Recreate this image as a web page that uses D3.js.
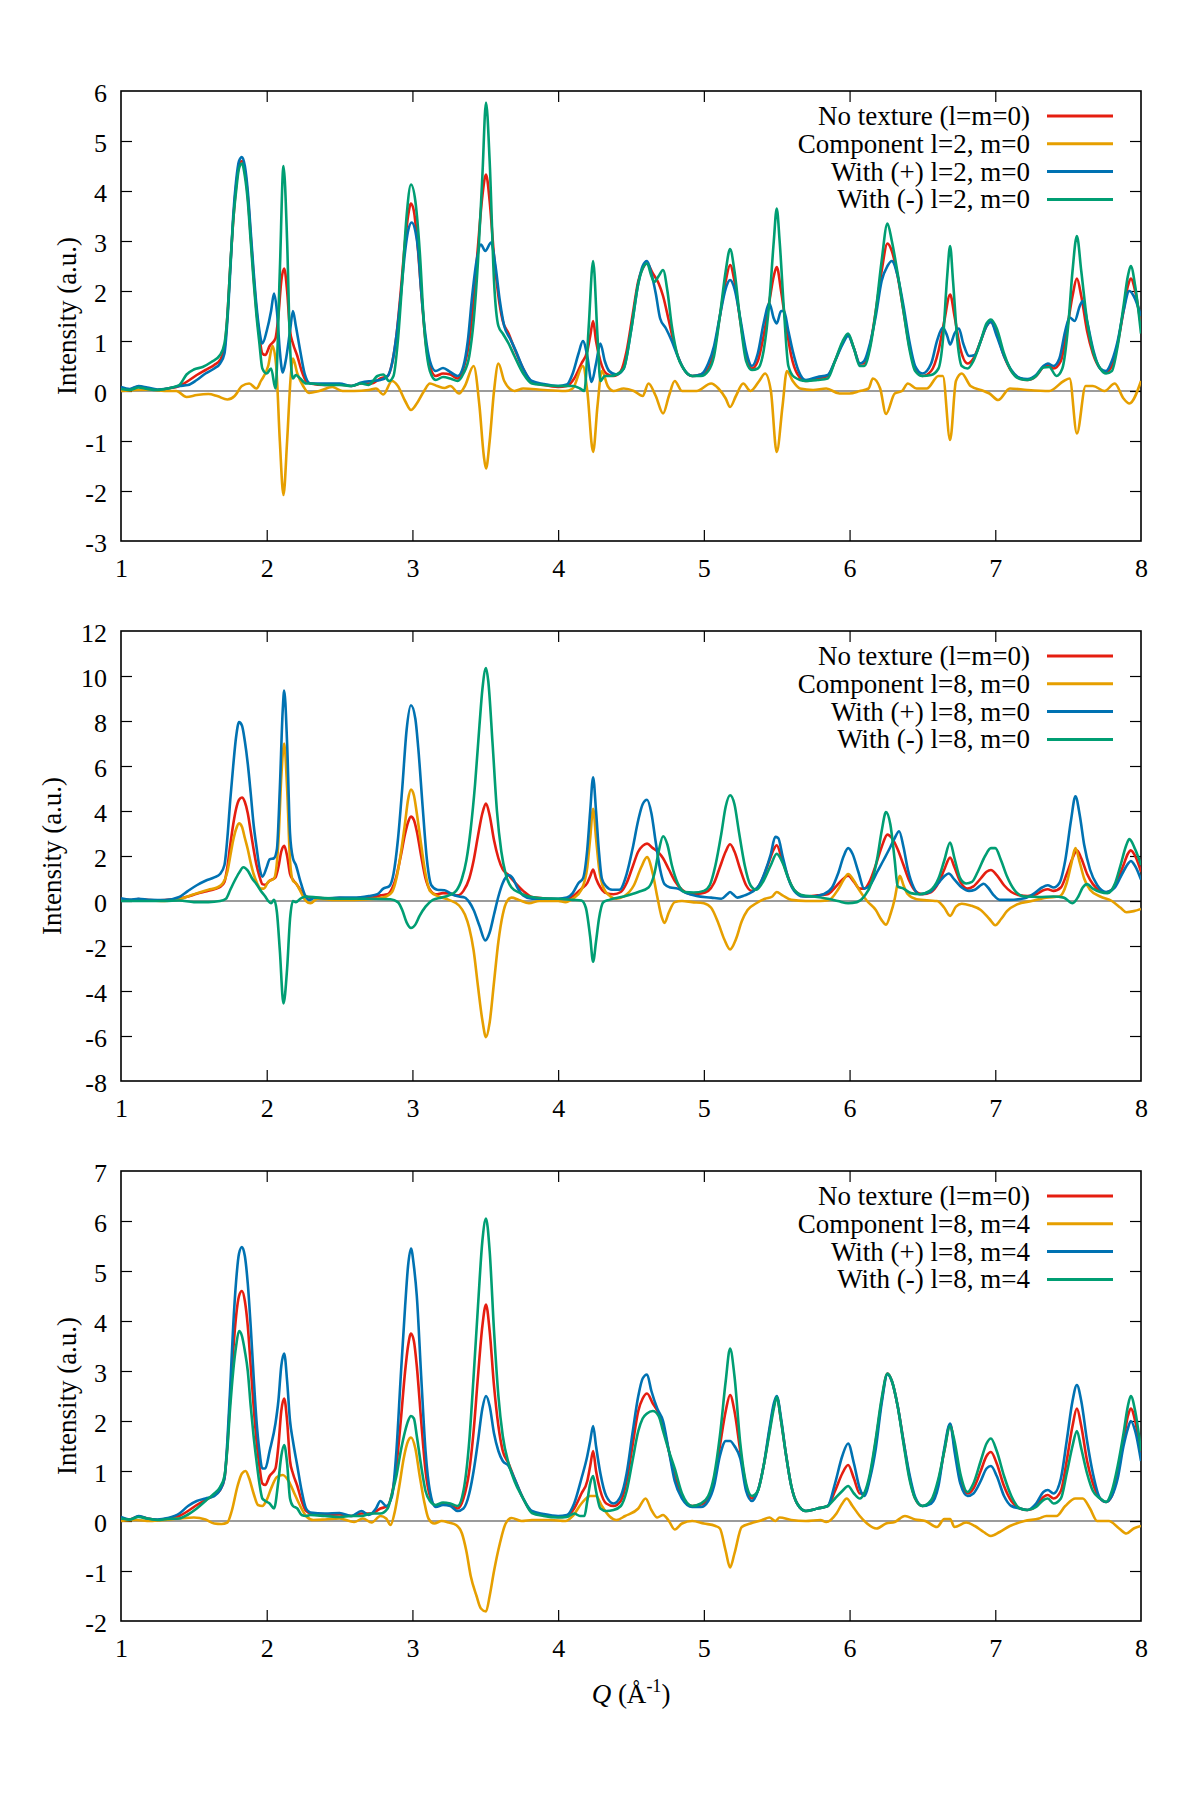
<!DOCTYPE html>
<html>
<head>
<meta charset="utf-8">
<script src="https://cdn.jsdelivr.net/npm/d3@7"></script>
<style>
  body { margin: 0; background: #fff; }
  text { font-family: "Liberation Serif", "Times New Roman", serif; fill: #000; }
</style>
</head>
<body>
<script>
// Q axis (1/Angstrom) and tick labels
const qDomain = [1, 8];
const qTicks = [1, 2, 3, 4, 5, 6, 7, 8];

// intensity ranges + ticks for the three panels
const yDomains = [[-3, 6], [-8, 12], [-2, 7]];
const yTickLists = [
  [-3, -2, -1, 0, 1, 2, 3, 4, 5, 6],
  [-8, -6, -4, -2, 0, 2, 4, 6, 8, 10, 12],
  [-2, -1, 0, 1, 2, 3, 4, 5, 6, 7]
];
const compTags = ["l=2, m=0", "l=8, m=0", "l=8, m=4"];

// no texture (l=m=0), same in every panel  [Q, intensity]
const noTexture = [[1.00,0.05],[1.06,0.03],[1.12,0.09],[1.18,0.05],[1.25,0.02],[1.32,0.05],[1.40,0.1],[1.46,0.2],[1.52,0.32],[1.58,0.42],[1.64,0.52],[1.68,0.62],[1.71,0.85],[1.73,1.5],[1.75,2.5],[1.77,3.4],[1.79,4.1],[1.81,4.5],[1.83,4.6],[1.85,4.4],[1.87,3.9],[1.89,3.1],[1.91,2.3],[1.93,1.6],[1.95,1.1],[1.97,0.75],[1.99,0.72],[2.02,0.9],[2.06,1.05],[2.08,1.5],[2.10,2.2],[2.12,2.45],[2.14,2.0],[2.16,1.2],[2.18,0.95],[2.21,0.7],[2.24,0.4],[2.27,0.2],[2.30,0.15],[2.4,0.12],[2.5,0.13],[2.58,0.1],[2.65,0.15],[2.72,0.15],[2.78,0.25],[2.83,0.3],[2.86,0.55],[2.89,1.1],[2.92,2.0],[2.95,3.0],[2.97,3.5],[2.99,3.75],[3.01,3.6],[3.03,3.1],[3.06,2.0],[3.09,1.0],[3.12,0.5],[3.16,0.3],[3.21,0.35],[3.26,0.33],[3.31,0.25],[3.35,0.45],[3.39,1.0],[3.42,1.8],[3.45,2.9],[3.48,3.9],[3.505,4.33],[3.53,3.8],[3.56,2.7],[3.59,1.9],[3.62,1.4],[3.66,1.15],[3.70,0.85],[3.76,0.45],[3.82,0.18],[3.9,0.12],[4.0,0.08],[4.06,0.1],[4.11,0.25],[4.16,0.55],[4.20,0.8],[4.22,1.1],[4.24,1.4],[4.26,1.0],[4.29,0.6],[4.33,0.35],[4.38,0.3],[4.43,0.4],[4.47,0.8],[4.51,1.5],[4.55,2.2],[4.58,2.45],[4.61,2.55],[4.65,2.35],[4.69,2.15],[4.72,1.9],[4.76,1.4],[4.8,0.9],[4.85,0.5],[4.92,0.3],[4.98,0.33],[5.03,0.45],[5.07,0.8],[5.11,1.5],[5.15,2.2],[5.18,2.52],[5.21,2.2],[5.25,1.4],[5.29,0.7],[5.33,0.45],[5.37,0.6],[5.41,1.1],[5.45,1.8],[5.48,2.3],[5.50,2.48],[5.53,2.0],[5.56,1.4],[5.6,0.7],[5.64,0.35],[5.7,0.2],[5.78,0.25],[5.85,0.3],[5.9,0.6],[5.95,0.95],[5.99,1.12],[6.03,0.85],[6.07,0.55],[6.1,0.55],[6.14,0.9],[6.18,1.6],[6.22,2.4],[6.26,2.95],[6.29,2.8],[6.33,2.3],[6.37,1.6],[6.41,0.9],[6.45,0.45],[6.5,0.3],[6.56,0.4],[6.61,0.8],[6.65,1.4],[6.69,1.93],[6.72,1.5],[6.76,0.85],[6.81,0.55],[6.85,0.65],[6.9,1.0],[6.94,1.3],[6.97,1.38],[7.01,1.15],[7.06,0.7],[7.11,0.4],[7.17,0.25],[7.22,0.22],[7.28,0.3],[7.33,0.48],[7.36,0.52],[7.40,0.45],[7.45,0.6],[7.49,1.2],[7.53,1.9],[7.56,2.25],[7.59,1.9],[7.63,1.2],[7.67,0.75],[7.72,0.45],[7.76,0.38],[7.8,0.5],[7.84,0.95],[7.88,1.6],[7.91,2.1],[7.93,2.25],[7.96,2.0],[8.0,1.3]];

// panel 1: l=2, m=0
const comp20 = [[1.0,0.0],[1.1,0.02],[1.2,0.03],[1.3,0.0],[1.38,0.0],[1.45,-0.12],[1.52,-0.08],[1.6,-0.06],[1.66,-0.1],[1.73,-0.17],[1.78,-0.1],[1.83,0.1],[1.88,0.15],[1.93,0.05],[1.96,0.2],[2.01,0.5],[2.04,0.9],[2.065,0.5],[2.09,-1.0],[2.115,-2.08],[2.14,-1.0],[2.165,0.3],[2.18,0.65],[2.21,0.35],[2.25,0.1],[2.29,-0.04],[2.36,0.0],[2.45,0.08],[2.52,0.0],[2.6,0.0],[2.7,0.02],[2.75,0.05],[2.8,-0.07],[2.86,0.2],[2.9,0.1],[2.95,-0.2],[2.99,-0.38],[3.03,-0.25],[3.08,0.0],[3.12,0.15],[3.17,0.1],[3.22,0.06],[3.26,0.1],[3.32,-0.05],[3.36,0.1],[3.42,0.5],[3.46,-0.3],[3.49,-1.3],[3.505,-1.55],[3.53,-1.0],[3.56,0.0],[3.59,0.55],[3.63,0.2],[3.7,0.0],[3.76,0.05],[3.9,0.02],[4.05,0.0],[4.1,0.05],[4.17,0.5],[4.2,0.0],[4.24,-1.22],[4.27,-0.3],[4.3,0.4],[4.34,0.1],[4.38,0.0],[4.45,0.05],[4.52,0.0],[4.58,-0.1],[4.62,0.15],[4.67,-0.1],[4.72,-0.45],[4.76,-0.1],[4.8,0.2],[4.85,0.0],[4.95,0.0],[5.05,0.15],[5.1,0.05],[5.15,-0.15],[5.18,-0.32],[5.22,-0.1],[5.27,0.15],[5.32,0.0],[5.38,0.2],[5.42,0.35],[5.46,0.0],[5.5,-1.22],[5.54,-0.3],[5.57,0.4],[5.61,0.2],[5.66,0.05],[5.75,0.02],[5.84,0.05],[5.93,-0.05],[6.0,-0.05],[6.07,0.0],[6.13,0.05],[6.16,0.25],[6.21,0.05],[6.25,-0.46],[6.31,-0.05],[6.36,0.0],[6.4,0.15],[6.46,0.05],[6.53,0.05],[6.61,0.3],[6.64,0.3],[6.69,-0.98],[6.73,0.2],[6.77,0.35],[6.83,0.1],[6.92,0.0],[6.96,-0.05],[7.02,-0.18],[7.1,0.05],[7.22,0.02],[7.37,0.0],[7.47,0.2],[7.51,0.25],[7.56,-0.85],[7.62,0.1],[7.67,0.1],[7.75,0.0],[7.82,0.15],[7.88,-0.15],[7.92,-0.25],[8.0,0.2]];
const plus20 = [[1.0,0.08],[1.06,0.04],[1.12,0.1],[1.18,0.07],[1.25,0.03],[1.32,0.05],[1.4,0.1],[1.46,0.12],[1.52,0.22],[1.58,0.35],[1.64,0.45],[1.68,0.55],[1.71,0.75],[1.73,1.4],[1.75,2.4],[1.77,3.5],[1.79,4.2],[1.81,4.6],[1.83,4.68],[1.85,4.5],[1.87,4.0],[1.89,3.2],[1.91,2.4],[1.93,1.7],[1.95,1.2],[1.97,0.95],[2.0,1.2],[2.03,1.6],[2.05,1.95],[2.07,1.6],[2.09,0.8],[2.11,0.37],[2.13,0.6],[2.16,1.2],[2.18,1.6],[2.2,1.3],[2.23,0.8],[2.26,0.35],[2.3,0.15],[2.4,0.15],[2.5,0.15],[2.58,0.1],[2.65,0.17],[2.72,0.2],[2.78,0.22],[2.83,0.3],[2.86,0.55],[2.89,1.1],[2.92,1.9],[2.95,2.8],[2.97,3.2],[2.995,3.37],[3.02,3.2],[3.04,2.8],[3.06,2.0],[3.09,1.1],[3.12,0.6],[3.16,0.4],[3.21,0.46],[3.26,0.38],[3.31,0.3],[3.35,0.5],[3.38,1.0],[3.41,1.9],[3.44,2.6],[3.47,2.93],[3.5,2.8],[3.54,2.97],[3.57,2.5],[3.6,1.8],[3.63,1.3],[3.67,1.05],[3.71,0.8],[3.76,0.45],[3.82,0.2],[3.9,0.14],[4.0,0.1],[4.06,0.13],[4.1,0.35],[4.14,0.75],[4.17,1.0],[4.2,0.7],[4.23,0.18],[4.26,0.55],[4.29,0.95],[4.32,0.6],[4.35,0.4],[4.4,0.33],[4.45,0.45],[4.5,1.2],[4.55,2.15],[4.58,2.5],[4.61,2.6],[4.64,2.35],[4.67,1.95],[4.7,1.45],[4.74,1.25],[4.78,1.0],[4.82,0.7],[4.86,0.45],[4.92,0.3],[4.98,0.33],[5.03,0.55],[5.07,0.9],[5.11,1.5],[5.15,2.05],[5.18,2.22],[5.21,2.05],[5.25,1.45],[5.29,0.8],[5.33,0.5],[5.37,0.75],[5.41,1.35],[5.45,1.75],[5.48,1.45],[5.5,1.35],[5.53,1.6],[5.55,1.6],[5.58,1.2],[5.61,0.8],[5.65,0.4],[5.7,0.22],[5.78,0.28],[5.85,0.32],[5.9,0.6],[5.95,0.92],[5.99,1.1],[6.03,0.85],[6.07,0.55],[6.1,0.6],[6.14,0.95],[6.18,1.5],[6.22,2.2],[6.26,2.5],[6.29,2.6],[6.33,2.3],[6.37,1.7],[6.41,1.0],[6.45,0.5],[6.5,0.35],[6.56,0.55],[6.6,1.0],[6.64,1.27],[6.67,1.1],[6.69,0.93],[6.72,1.15],[6.75,1.25],[6.78,0.95],[6.82,0.7],[6.86,0.72],[6.9,1.0],[6.94,1.3],[6.97,1.38],[7.01,1.1],[7.06,0.7],[7.11,0.42],[7.17,0.26],[7.22,0.24],[7.28,0.32],[7.33,0.5],[7.36,0.55],[7.40,0.5],[7.44,0.65],[7.48,1.2],[7.51,1.47],[7.545,1.4],[7.58,1.7],[7.6,1.8],[7.63,1.4],[7.67,0.85],[7.72,0.45],[7.76,0.4],[7.8,0.6],[7.84,1.0],[7.88,1.6],[7.92,2.0],[7.95,1.9],[8.0,1.5]];
const minus20 = [[1.0,0.04],[1.06,0.02],[1.12,0.07],[1.18,0.04],[1.25,0.02],[1.32,0.05],[1.4,0.12],[1.45,0.33],[1.5,0.43],[1.56,0.48],[1.62,0.58],[1.68,0.72],[1.71,0.95],[1.73,1.5],[1.75,2.5],[1.77,3.4],[1.79,4.0],[1.81,4.45],[1.83,4.55],[1.85,4.3],[1.87,3.8],[1.89,3.0],[1.91,2.2],[1.93,1.5],[1.95,0.95],[1.97,0.45],[2.0,0.35],[2.03,0.45],[2.06,0.05],[2.09,2.4],[2.115,4.5],[2.14,3.0],[2.16,0.9],[2.18,0.25],[2.2,0.32],[2.23,0.25],[2.27,0.15],[2.3,0.15],[2.4,0.12],[2.5,0.12],[2.58,0.1],[2.65,0.15],[2.7,0.12],[2.76,0.3],[2.8,0.33],[2.84,0.2],[2.87,0.3],[2.9,1.0],[2.93,2.2],[2.96,3.5],[2.99,4.13],[3.02,3.8],[3.05,2.8],[3.08,1.3],[3.12,0.4],[3.16,0.22],[3.21,0.28],[3.26,0.25],[3.31,0.2],[3.35,0.35],[3.39,0.7],[3.42,1.4],[3.45,2.6],[3.48,4.3],[3.505,5.77],[3.53,4.6],[3.56,2.2],[3.59,1.3],[3.62,1.15],[3.66,0.95],[3.7,0.7],[3.76,0.35],[3.82,0.15],[3.9,0.12],[4.0,0.1],[4.1,0.1],[4.15,0.05],[4.18,0.0],[4.21,1.3],[4.24,2.6],[4.27,1.1],[4.29,0.2],[4.32,0.3],[4.36,0.3],[4.4,0.33],[4.45,0.45],[4.5,1.2],[4.55,2.15],[4.58,2.45],[4.61,2.55],[4.64,2.3],[4.66,2.18],[4.69,2.3],[4.72,2.42],[4.75,2.0],[4.78,1.3],[4.82,0.7],[4.86,0.45],[4.92,0.3],[4.98,0.3],[5.03,0.4],[5.07,0.7],[5.11,1.5],[5.15,2.4],[5.18,2.84],[5.21,2.4],[5.25,1.4],[5.29,0.6],[5.33,0.42],[5.37,0.45],[5.41,0.8],[5.45,1.8],[5.48,3.0],[5.5,3.65],[5.52,3.0],[5.55,1.6],[5.58,0.5],[5.62,0.28],[5.7,0.2],[5.78,0.22],[5.85,0.25],[5.9,0.6],[5.95,0.98],[5.99,1.15],[6.03,0.85],[6.07,0.5],[6.1,0.5],[6.14,0.85],[6.18,1.6],[6.22,2.6],[6.26,3.35],[6.29,3.0],[6.33,2.35],[6.37,1.6],[6.41,0.85],[6.45,0.4],[6.5,0.3],[6.56,0.32],[6.61,0.45],[6.64,1.0],[6.67,2.3],[6.69,2.9],[6.71,2.2],[6.74,1.0],[6.77,0.5],[6.81,0.45],[6.85,0.6],[6.9,1.0],[6.94,1.35],[6.97,1.43],[7.01,1.25],[7.06,0.75],[7.11,0.4],[7.17,0.24],[7.22,0.22],[7.28,0.3],[7.33,0.47],[7.37,0.48],[7.42,0.3],[7.46,0.45],[7.5,1.3],[7.53,2.4],[7.56,3.1],[7.59,2.4],[7.63,1.4],[7.67,0.8],[7.72,0.45],[7.76,0.35],[7.8,0.4],[7.84,0.9],[7.88,1.7],[7.91,2.3],[7.93,2.5],[7.96,2.1],[8.0,1.15]];

// panel 2: l=8, m=0
const comp80 = [[1.0,0.05],[1.1,0.03],[1.2,0.02],[1.3,0.0],[1.4,0.08],[1.5,0.3],[1.6,0.5],[1.66,0.6],[1.7,0.8],[1.73,1.3],[1.75,2.0],[1.77,2.7],[1.79,3.2],[1.81,3.45],[1.83,3.3],[1.85,2.8],[1.87,2.3],[1.89,1.7],[1.91,1.2],[1.93,0.85],[1.96,0.55],[1.98,0.55],[2.01,0.85],[2.05,1.0],[2.08,2.6],[2.1,5.5],[2.12,7.0],[2.14,5.0],[2.16,1.8],[2.18,0.9],[2.2,0.8],[2.23,0.45],[2.27,0.0],[2.3,-0.1],[2.35,0.1],[2.45,0.05],[2.6,0.05],[2.75,0.1],[2.82,0.2],[2.86,0.4],[2.89,1.0],[2.92,2.1],[2.95,3.5],[2.97,4.5],[2.99,4.95],[3.01,4.7],[3.03,3.9],[3.06,2.5],[3.09,1.2],[3.12,0.45],[3.18,0.2],[3.25,0.05],[3.32,-0.2],[3.36,-0.6],[3.39,-1.2],[3.42,-2.2],[3.45,-3.8],[3.48,-5.3],[3.505,-6.05],[3.53,-5.4],[3.56,-3.6],[3.59,-1.8],[3.62,-0.6],[3.65,0.0],[3.68,0.15],[3.73,0.05],[3.8,-0.1],[3.87,0.0],[4.0,0.0],[4.05,-0.05],[4.1,0.1],[4.16,0.5],[4.2,1.5],[4.22,2.8],[4.24,4.1],[4.26,2.8],[4.28,1.5],[4.31,0.6],[4.35,0.25],[4.4,0.1],[4.45,0.2],[4.52,0.7],[4.57,1.5],[4.61,1.95],[4.65,1.2],[4.68,0.2],[4.71,-0.7],[4.73,-0.98],[4.76,-0.5],[4.8,-0.05],[4.85,0.0],[4.92,-0.05],[5.0,-0.1],[5.05,-0.3],[5.1,-1.0],[5.14,-1.7],[5.18,-2.15],[5.22,-1.7],[5.26,-0.9],[5.3,-0.4],[5.36,-0.1],[5.42,0.1],[5.47,0.2],[5.5,0.4],[5.54,0.25],[5.6,0.05],[5.7,0.0],[5.8,0.0],[5.86,0.05],[5.92,0.5],[5.96,0.95],[5.99,1.2],[6.03,0.9],[6.07,0.45],[6.12,0.0],[6.18,-0.4],[6.22,-0.85],[6.25,-1.05],[6.28,-0.6],[6.31,0.1],[6.33,0.8],[6.345,1.12],[6.37,0.7],[6.4,0.3],[6.46,0.08],[6.55,0.02],[6.6,0.0],[6.65,-0.3],[6.69,-0.66],[6.73,-0.25],[6.77,-0.12],[6.83,-0.2],[6.9,-0.4],[6.96,-0.8],[7.0,-1.08],[7.04,-0.8],[7.08,-0.45],[7.15,-0.15],[7.25,0.0],[7.35,0.15],[7.44,0.2],[7.49,0.8],[7.52,1.6],[7.55,2.35],[7.58,1.7],[7.61,1.0],[7.65,0.5],[7.72,0.2],[7.8,0.0],[7.86,-0.3],[7.9,-0.5],[7.95,-0.45],[8.0,-0.35]];
const plus80 = [[1.0,0.12],[1.06,0.06],[1.12,0.1],[1.2,0.05],[1.3,0.04],[1.4,0.18],[1.46,0.45],[1.52,0.7],[1.58,0.9],[1.64,1.05],[1.68,1.2],[1.71,1.6],[1.73,2.8],[1.75,4.5],[1.77,6.0],[1.79,7.3],[1.81,7.95],[1.83,7.8],[1.85,7.1],[1.87,6.1],[1.89,4.8],[1.91,3.4],[1.93,2.4],[1.95,1.5],[1.97,1.08],[2.0,1.5],[2.02,1.85],[2.05,1.9],[2.07,2.3],[2.09,5.0],[2.11,8.5],[2.12,9.35],[2.14,7.0],[2.16,3.0],[2.18,1.9],[2.2,1.6],[2.23,0.9],[2.26,0.3],[2.29,0.05],[2.33,0.15],[2.4,0.12],[2.5,0.15],[2.6,0.15],[2.7,0.22],[2.76,0.3],[2.8,0.55],[2.84,0.65],[2.87,1.2],[2.9,2.7],[2.93,5.0],[2.96,7.6],[2.99,8.7],[3.02,8.1],[3.04,6.8],[3.07,4.2],[3.1,1.8],[3.13,0.7],[3.17,0.5],[3.22,0.48],[3.27,0.3],[3.32,0.2],[3.36,0.15],[3.39,-0.05],[3.42,-0.4],[3.46,-1.1],[3.5,-1.75],[3.53,-1.4],[3.56,-0.6],[3.59,0.2],[3.62,0.8],[3.66,1.15],[3.69,1.0],[3.72,0.6],[3.76,0.25],[3.82,0.1],[3.9,0.1],[4.0,0.1],[4.06,0.15],[4.1,0.35],[4.14,0.8],[4.17,1.0],[4.2,2.3],[4.22,4.0],[4.24,5.5],[4.26,4.0],[4.28,2.2],[4.3,1.0],[4.33,0.65],[4.37,0.5],[4.42,0.5],[4.47,1.2],[4.51,2.3],[4.55,3.6],[4.58,4.3],[4.61,4.5],[4.64,3.9],[4.67,2.6],[4.7,1.4],[4.73,0.75],[4.77,0.6],[4.82,0.55],[4.88,0.35],[4.95,0.22],[5.05,0.15],[5.12,0.1],[5.16,0.3],[5.18,0.4],[5.2,0.3],[5.23,0.15],[5.28,0.25],[5.33,0.4],[5.38,0.7],[5.42,1.3],[5.46,2.1],[5.49,2.85],[5.51,2.8],[5.54,2.0],[5.58,1.0],[5.62,0.45],[5.68,0.2],[5.75,0.2],[5.82,0.3],[5.88,0.6],[5.92,1.2],[5.96,2.0],[5.99,2.35],[6.02,2.1],[6.06,1.3],[6.1,0.55],[6.14,0.7],[6.19,1.3],[6.24,1.9],[6.28,2.4],[6.31,2.8],[6.34,3.1],[6.37,2.4],[6.4,1.4],[6.44,0.6],[6.48,0.3],[6.55,0.4],[6.61,0.8],[6.65,1.1],[6.68,1.22],[6.72,0.95],[6.77,0.6],[6.82,0.45],[6.86,0.5],[6.9,0.7],[6.92,0.77],[6.95,0.6],[6.99,0.25],[7.03,0.05],[7.1,0.05],[7.2,0.12],[7.27,0.35],[7.32,0.6],[7.36,0.7],[7.4,0.6],[7.44,0.8],[7.48,1.8],[7.52,3.6],[7.55,4.65],[7.58,3.8],[7.61,2.5],[7.65,1.4],[7.7,0.7],[7.76,0.4],[7.82,0.6],[7.87,1.2],[7.91,1.65],[7.93,1.78],[7.96,1.55],[8.0,0.95]];
const minus80 = [[1.0,0.0],[1.2,0.0],[1.3,0.0],[1.4,0.02],[1.5,-0.05],[1.6,-0.05],[1.68,0.0],[1.72,0.1],[1.75,0.5],[1.78,0.9],[1.81,1.25],[1.84,1.5],[1.87,1.35],[1.9,1.0],[1.93,0.75],[1.96,0.45],[1.99,0.2],[2.01,0.0],[2.03,-0.1],[2.05,0.05],[2.07,-0.5],[2.09,-2.2],[2.115,-4.55],[2.14,-3.0],[2.16,-0.8],[2.18,0.0],[2.2,-0.05],[2.23,0.1],[2.27,0.2],[2.35,0.15],[2.5,0.1],[2.7,0.1],[2.85,0.08],[2.9,-0.05],[2.93,-0.4],[2.96,-0.95],[2.99,-1.2],[3.02,-1.05],[3.05,-0.65],[3.09,-0.25],[3.14,0.05],[3.2,0.15],[3.25,0.25],[3.3,0.45],[3.34,1.0],[3.37,1.8],[3.4,3.2],[3.43,5.2],[3.46,7.8],[3.48,9.4],[3.505,10.35],[3.52,9.8],[3.55,7.0],[3.58,4.0],[3.61,2.2],[3.64,1.2],[3.68,0.6],[3.74,0.35],[3.8,0.2],[3.9,0.12],[4.0,0.1],[4.1,0.05],[4.16,0.02],[4.19,-0.3],[4.22,-1.6],[4.24,-2.7],[4.26,-1.8],[4.28,-0.8],[4.31,-0.05],[4.35,0.05],[4.45,0.2],[4.55,0.4],[4.62,0.6],[4.66,1.2],[4.69,2.2],[4.72,2.88],[4.75,2.5],[4.78,1.6],[4.82,0.8],[4.87,0.4],[4.93,0.38],[5.0,0.45],[5.04,0.7],[5.08,1.6],[5.12,3.0],[5.15,4.2],[5.18,4.7],[5.21,4.3],[5.24,3.1],[5.28,1.6],[5.32,0.7],[5.36,0.5],[5.41,0.9],[5.46,1.6],[5.5,2.1],[5.54,1.7],[5.58,1.0],[5.62,0.5],[5.68,0.25],[5.75,0.2],[5.85,0.1],[5.92,0.0],[5.99,-0.1],[6.05,-0.05],[6.1,0.2],[6.15,0.8],[6.19,1.9],[6.22,3.1],[6.25,3.95],[6.28,3.4],[6.31,1.8],[6.33,0.65],[6.37,0.55],[6.42,0.35],[6.48,0.3],[6.55,0.45],[6.61,1.0],[6.65,1.8],[6.69,2.6],[6.72,1.9],[6.76,1.0],[6.8,0.78],[6.84,0.85],[6.88,1.3],[6.93,2.0],[6.97,2.35],[7.0,2.35],[7.04,1.8],[7.08,1.1],[7.13,0.5],[7.2,0.2],[7.3,0.18],[7.4,0.2],[7.47,0.15],[7.53,-0.1],[7.57,0.2],[7.6,0.6],[7.63,0.75],[7.67,0.55],[7.72,0.4],[7.77,0.35],[7.82,0.75],[7.86,1.6],[7.9,2.5],[7.92,2.75],[7.96,2.3],[8.0,1.6]];

// panel 3: l=8, m=4
const comp84 = [[1.0,0.0],[1.1,0.02],[1.2,0.0],[1.3,0.02],[1.4,0.05],[1.5,0.07],[1.58,0.03],[1.64,-0.05],[1.69,-0.06],[1.73,-0.03],[1.76,0.2],[1.8,0.7],[1.83,0.95],[1.855,1.0],[1.88,0.85],[1.91,0.55],[1.94,0.32],[1.97,0.3],[2.0,0.42],[2.03,0.65],[2.07,0.88],[2.11,0.92],[2.15,0.8],[2.19,0.55],[2.23,0.3],[2.27,0.1],[2.32,0.02],[2.4,0.03],[2.5,0.05],[2.6,-0.02],[2.66,0.05],[2.72,-0.03],[2.78,0.1],[2.82,0.05],[2.85,-0.08],[2.88,0.2],[2.91,0.7],[2.94,1.25],[2.97,1.6],[2.99,1.67],[3.02,1.45],[3.05,0.9],[3.08,0.4],[3.11,0.05],[3.15,-0.05],[3.2,0.0],[3.25,-0.03],[3.3,-0.08],[3.34,-0.25],[3.37,-0.6],[3.4,-1.1],[3.44,-1.5],[3.47,-1.75],[3.505,-1.81],[3.53,-1.5],[3.56,-1.0],[3.6,-0.45],[3.64,-0.05],[3.68,0.06],[3.75,0.0],[3.82,0.02],[3.95,0.02],[4.05,0.0],[4.1,0.1],[4.16,0.35],[4.22,0.5],[4.26,0.5],[4.3,0.3],[4.35,0.1],[4.4,0.02],[4.46,0.1],[4.55,0.25],[4.6,0.45],[4.64,0.22],[4.68,0.07],[4.72,0.12],[4.76,0.0],[4.8,-0.17],[4.85,-0.05],[4.92,0.0],[5.0,-0.05],[5.08,-0.1],[5.11,-0.15],[5.15,-0.6],[5.18,-0.93],[5.21,-0.65],[5.26,-0.12],[5.32,-0.05],[5.4,0.02],[5.45,0.07],[5.49,0.0],[5.52,0.07],[5.6,0.02],[5.7,0.0],[5.8,0.02],[5.84,-0.02],[5.91,0.15],[5.95,0.35],[5.98,0.45],[6.02,0.3],[6.07,0.1],[6.12,-0.05],[6.185,-0.15],[6.25,-0.05],[6.31,-0.02],[6.38,0.1],[6.45,0.03],[6.52,0.0],[6.6,-0.12],[6.65,0.04],[6.69,0.04],[6.72,-0.12],[6.8,-0.03],[6.86,-0.1],[6.92,-0.22],[6.97,-0.3],[7.03,-0.22],[7.1,-0.1],[7.2,0.0],[7.3,0.05],[7.35,0.1],[7.42,0.1],[7.48,0.3],[7.55,0.45],[7.6,0.45],[7.65,0.25],[7.7,0.0],[7.78,0.0],[7.85,-0.15],[7.9,-0.25],[7.95,-0.15],[8.0,-0.1]];
const plus84 = [[1.0,0.08],[1.06,0.03],[1.12,0.1],[1.18,0.05],[1.25,0.03],[1.32,0.06],[1.4,0.15],[1.46,0.3],[1.52,0.4],[1.58,0.45],[1.64,0.5],[1.68,0.62],[1.71,0.85],[1.73,1.6],[1.75,2.7],[1.77,3.9],[1.79,4.8],[1.81,5.35],[1.83,5.48],[1.85,5.3],[1.87,4.75],[1.89,3.9],[1.91,2.9],[1.93,2.0],[1.95,1.4],[1.97,1.05],[1.99,1.05],[2.02,1.4],[2.06,1.95],[2.08,2.4],[2.1,3.1],[2.12,3.35],[2.14,2.8],[2.16,2.0],[2.18,1.6],[2.21,1.1],[2.24,0.6],[2.27,0.25],[2.3,0.17],[2.4,0.15],[2.5,0.16],[2.58,0.1],[2.65,0.2],[2.7,0.12],[2.75,0.25],[2.78,0.4],[2.82,0.3],[2.86,0.5],[2.89,1.4],[2.92,2.9],[2.95,4.3],[2.97,5.1],[2.99,5.45],[3.01,5.1],[3.03,4.5],[3.06,2.9],[3.09,1.4],[3.12,0.6],[3.16,0.28],[3.21,0.32],[3.26,0.3],[3.31,0.2],[3.35,0.25],[3.39,0.55],[3.42,1.0],[3.45,1.6],[3.48,2.25],[3.505,2.5],[3.53,2.3],[3.56,1.75],[3.59,1.4],[3.62,1.2],[3.66,1.1],[3.7,0.85],[3.76,0.45],[3.82,0.2],[3.9,0.14],[4.0,0.1],[4.06,0.12],[4.11,0.35],[4.16,0.85],[4.2,1.3],[4.22,1.6],[4.24,1.9],[4.26,1.5],[4.29,0.95],[4.33,0.5],[4.38,0.35],[4.43,0.5],[4.47,0.95],[4.51,1.75],[4.55,2.5],[4.58,2.85],[4.61,2.93],[4.64,2.6],[4.68,2.25],[4.72,2.0],[4.76,1.4],[4.8,0.8],[4.85,0.45],[4.92,0.28],[4.98,0.28],[5.03,0.4],[5.07,0.7],[5.11,1.3],[5.15,1.6],[5.18,1.6],[5.21,1.5],[5.25,1.25],[5.29,0.6],[5.33,0.4],[5.37,0.6],[5.41,1.1],[5.45,1.85],[5.48,2.35],[5.5,2.5],[5.53,2.05],[5.56,1.4],[5.6,0.7],[5.64,0.35],[5.7,0.2],[5.78,0.25],[5.85,0.3],[5.9,0.75],[5.95,1.3],[5.99,1.55],[6.03,1.15],[6.07,0.65],[6.1,0.5],[6.14,0.85],[6.18,1.45],[6.22,2.35],[6.26,2.93],[6.29,2.8],[6.33,2.3],[6.37,1.6],[6.41,0.95],[6.45,0.48],[6.5,0.3],[6.56,0.35],[6.61,0.7],[6.65,1.45],[6.69,1.95],[6.72,1.4],[6.76,0.75],[6.81,0.5],[6.85,0.55],[6.9,0.8],[6.94,1.05],[6.97,1.1],[7.01,0.9],[7.06,0.5],[7.11,0.3],[7.17,0.25],[7.22,0.22],[7.28,0.35],[7.33,0.58],[7.36,0.62],[7.40,0.55],[7.45,0.85],[7.49,1.6],[7.53,2.4],[7.56,2.72],[7.59,2.4],[7.63,1.6],[7.67,0.95],[7.72,0.45],[7.76,0.38],[7.8,0.5],[7.84,0.85],[7.88,1.5],[7.91,1.85],[7.93,2.0],[7.96,1.8],[8.0,1.2]];
const minus84 = [[1.0,0.05],[1.06,0.03],[1.12,0.08],[1.18,0.05],[1.25,0.02],[1.32,0.04],[1.4,0.05],[1.46,0.13],[1.52,0.25],[1.58,0.4],[1.64,0.55],[1.68,0.68],[1.71,0.9],[1.73,1.45],[1.75,2.3],[1.77,3.0],[1.79,3.5],[1.81,3.8],[1.83,3.7],[1.85,3.4],[1.87,3.0],[1.89,2.3],[1.91,1.7],[1.93,1.2],[1.95,0.75],[1.97,0.45],[1.99,0.4],[2.02,0.35],[2.05,0.25],[2.08,0.8],[2.1,1.3],[2.12,1.52],[2.14,1.15],[2.16,0.45],[2.18,0.3],[2.21,0.25],[2.24,0.12],[2.27,0.1],[2.3,0.12],[2.4,0.1],[2.5,0.08],[2.58,0.1],[2.65,0.1],[2.72,0.15],[2.78,0.15],[2.83,0.25],[2.86,0.55],[2.89,0.9],[2.92,1.4],[2.95,1.8],[2.97,2.0],[2.99,2.1],[3.01,2.05],[3.03,1.7],[3.06,1.1],[3.09,0.6],[3.12,0.4],[3.16,0.32],[3.21,0.37],[3.26,0.35],[3.31,0.3],[3.35,0.6],[3.39,1.6],[3.42,2.9],[3.45,4.3],[3.48,5.6],[3.505,6.05],[3.53,5.4],[3.56,3.8],[3.59,2.5],[3.62,1.7],[3.66,1.15],[3.70,0.8],[3.76,0.45],[3.82,0.16],[3.9,0.1],[4.0,0.07],[4.06,0.08],[4.11,0.15],[4.15,0.1],[4.18,0.1],[4.2,0.4],[4.22,0.75],[4.24,0.9],[4.26,0.6],[4.29,0.25],[4.33,0.2],[4.38,0.22],[4.43,0.3],[4.47,0.6],[4.51,1.2],[4.55,1.8],[4.58,2.05],[4.61,2.15],[4.65,2.2],[4.69,2.1],[4.72,1.8],[4.76,1.4],[4.8,1.05],[4.85,0.55],[4.92,0.3],[4.98,0.35],[5.03,0.5],[5.07,0.9],[5.11,1.7],[5.15,2.8],[5.18,3.45],[5.21,2.9],[5.25,1.55],[5.29,0.75],[5.33,0.5],[5.37,0.6],[5.41,1.1],[5.45,1.75],[5.48,2.25],[5.5,2.48],[5.53,2.0],[5.56,1.4],[5.6,0.7],[5.64,0.35],[5.7,0.2],[5.78,0.25],[5.85,0.3],[5.9,0.45],[5.95,0.6],[5.99,0.7],[6.03,0.55],[6.07,0.45],[6.1,0.55],[6.14,0.95],[6.18,1.65],[6.22,2.45],[6.26,2.95],[6.29,2.8],[6.33,2.3],[6.37,1.55],[6.41,0.85],[6.45,0.45],[6.5,0.3],[6.56,0.42],[6.61,0.85],[6.65,1.4],[6.69,1.9],[6.72,1.6],[6.76,0.95],[6.81,0.58],[6.85,0.75],[6.9,1.2],[6.94,1.55],[6.97,1.65],[7.01,1.4],[7.06,0.9],[7.11,0.5],[7.17,0.25],[7.22,0.22],[7.28,0.28],[7.33,0.42],[7.36,0.45],[7.40,0.35],[7.45,0.45],[7.49,0.95],[7.53,1.5],[7.56,1.8],[7.59,1.45],[7.63,0.95],[7.67,0.6],[7.72,0.45],[7.76,0.38],[7.8,0.6],[7.84,1.1],[7.88,1.75],[7.91,2.3],[7.93,2.5],[7.96,2.2],[8.0,1.4]];

const compSeries = [comp20, comp80, comp84];
const plusSeries = [plus20, plus80, plus84];
const minusSeries = [minus20, minus80, minus84];

const colors = ["#e51e10", "#e69f00", "#0072b2", "#009e73"];

const W = 1200, H = 1800;
const left = 121, pw = 1020, ph = 450;
const tops = [91, 631, 1171];
const tick = 11;
const serif = "'Liberation Serif', 'Times New Roman', serif";

const svg = d3.select("body")
  .append("svg")
  .attr("width", W)
  .attr("height", H);

const x = d3.scaleLinear().domain(qDomain).range([left, left + pw]);

// plain hyphen for negatives, like the original plot
function fmt(d) { return d < 0 ? "-" + Math.abs(d) : String(d); }

tops.forEach(function(top, i) {
  const y = d3.scaleLinear().domain(yDomains[i]).range([top + ph, top]);
  const g = svg.append("g");

  // clip so nothing runs over the frame
  g.append("clipPath").attr("id", "clip" + i)
    .append("rect")
    .attr("x", left).attr("y", top)
    .attr("width", pw).attr("height", ph);

  // zero line
  g.append("line")
    .attr("x1", left).attr("x2", left + pw)
    .attr("y1", y(0)).attr("y2", y(0))
    .attr("stroke", "#7a7a7a")
    .attr("stroke-width", 1.6);

  // axes, gnuplot style ticks pointing inward
  const ax = [
    g.append("g").attr("transform", "translate(" + left + ",0)")
      .call(d3.axisLeft(y).tickValues(yTickLists[i]).tickSize(-tick).tickPadding(14).tickFormat(fmt)),
    g.append("g").attr("transform", "translate(" + (left + pw) + ",0)")
      .call(d3.axisRight(y).tickValues(yTickLists[i]).tickSize(-tick).tickFormat("")),
    g.append("g").attr("transform", "translate(0," + (top + ph) + ")")
      .call(d3.axisBottom(x).tickValues(qTicks).tickSize(-tick).tickPadding(18).tickFormat(fmt)),
    g.append("g").attr("transform", "translate(0," + top + ")")
      .call(d3.axisTop(x).tickValues(qTicks).tickSize(-tick).tickFormat(""))
  ];
  ax.forEach(function(a) {
    a.attr("font-family", serif).attr("font-size", 26);
    a.select(".domain").remove();
    a.selectAll(".tick line").attr("stroke", "#000").attr("stroke-width", 1.2);
    a.selectAll(".tick text").attr("fill", "#000");
    // drop the tick marks that would sit on the frame corners
    a.selectAll(".tick line").filter(function(d, k, nodes) {
      return k === 0 || k === nodes.length - 1;
    }).remove();
  });
  ax[0].selectAll(".tick text").attr("dy", "0.42em");

  // frame
  g.append("rect")
    .attr("x", left).attr("y", top)
    .attr("width", pw).attr("height", ph)
    .attr("fill", "none")
    .attr("stroke", "#000")
    .attr("stroke-width", 1.6);

  // y label
  const lx = i === 1 ? 61 : 76;
  g.append("text")
    .attr("transform", "translate(" + lx + "," + (top + ph / 2) + ") rotate(-90)")
    .attr("text-anchor", "middle")
    .style("font-size", "27px")
    .text("Intensity (a.u.)");

  // curves: no texture, component, with (+), with (-)
  const series = [noTexture, compSeries[i], plusSeries[i], minusSeries[i]];
  const line = d3.line()
    .x(function(d) { return x(d[0]); })
    .y(function(d) { return y(d[1]); })
    .curve(d3.curveMonotoneX);

  g.append("g").attr("clip-path", "url(#clip" + i + ")")
    .selectAll("path")
    .data(series)
    .enter()
    .append("path")
    .attr("d", line)
    .attr("fill", "none")
    .attr("stroke", function(d, k) { return colors[k]; })
    .attr("stroke-width", 2.6)
    .attr("stroke-linejoin", "round");

  // legend
  const labels = [
    "No texture (l=m=0)",
    "Component " + compTags[i],
    "With (+) " + compTags[i],
    "With (-) " + compTags[i]
  ];
  const leg = g.selectAll(".leg")
    .data(labels)
    .enter()
    .append("g")
    .attr("transform", function(d, k) { return "translate(0," + (top + 25 + k * 27.8) + ")"; });
  leg.append("text")
    .attr("x", 1030)
    .attr("y", 9)
    .attr("text-anchor", "end")
    .style("font-size", "27px")
    .text(function(d) { return d; });
  leg.append("line")
    .attr("x1", 1047).attr("x2", 1113)
    .attr("y1", 0).attr("y2", 0)
    .attr("stroke", function(d, k) { return colors[k]; })
    .attr("stroke-width", 3);
});

// x label
const xl = svg.append("text")
  .attr("x", left + pw / 2)
  .attr("y", 1703)
  .attr("text-anchor", "middle")
  .style("font-size", "27px");
xl.append("tspan").style("font-style", "italic").text("Q");
xl.append("tspan").text(" (Å");
xl.append("tspan").attr("dy", -11).style("font-size", "18px").text("-1");
xl.append("tspan").attr("dy", 11).text(")");
</script>
</body>
</html>
